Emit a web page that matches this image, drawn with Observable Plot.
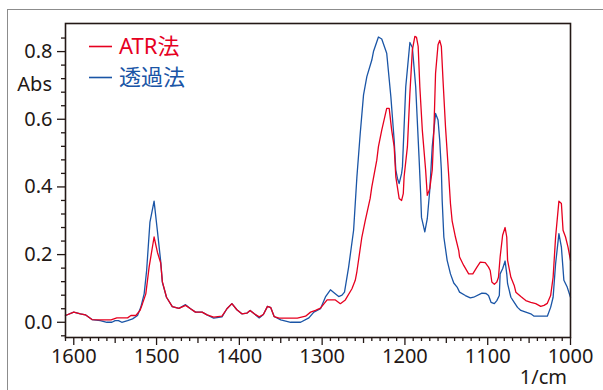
<!DOCTYPE html>
<html><head><meta charset="utf-8">
<script src="https://cdn.jsdelivr.net/npm/d3@7"></script>
<script src="https://cdn.jsdelivr.net/npm/@observablehq/plot@0.6"></script>
<style>
body{margin:0;background:#fff;}
#wrap{position:relative;width:603px;height:390px;overflow:hidden;font-family:"Noto Sans","Noto Sans CJK JP",sans-serif;}
#outer{position:absolute;left:7px;top:9px;width:700px;height:500px;border-left:1.5px solid #8c8c8c;border-top:1.5px solid #8c8c8c;}
#chart{position:absolute;left:0;top:0;}
#overlay{position:absolute;left:0;top:0;pointer-events:none;}
</style></head>
<body>
<div id="wrap"><div id="outer"></div><div id="chart"></div><svg id="overlay" width="603" height="390"></svg></div>
<script>
// Series: ATR法 (red)
const atrWn = [1610,1600,1592,1586,1578,1568,1555,1548,1535,1531,1525,1520,1517,1513,1509,1503,1499,1495,1493,1488,1481,1473,1465,1459,1453,1445,1439,1431,1421,1415,1409,1403,1397,1391,1387,1382,1376,1371,1366,1362,1358,1352,1330,1320,1314,1308,1302,1294,1284,1278,1272,1264,1260,1258,1252,1248,1242,1240,1234,1232,1228,1222,1219,1216,1213,1211,1207,1204,1202,1201,1197,1194,1191,1188,1186,1184,1182,1179,1175,1173,1170,1167,1165,1163,1160,1158,1156,1154,1151,1147,1145,1143,1139,1135,1134,1129,1123,1118,1113,1109,1103,1099,1097,1095,1092,1089,1087,1085,1082,1079,1077,1076,1072,1068,1066,1060,1054,1048,1042,1036,1032,1028,1024,1021,1018,1014,1011,1009,1006,1003,1000];
const atrAbs = [0.02,0.03,0.025,0.022,0.008,0.007,0.007,0.013,0.013,0.02,0.02,0.035,0.055,0.084,0.163,0.252,0.207,0.175,0.12,0.074,0.046,0.041,0.05,0.04,0.03,0.03,0.022,0.015,0.018,0.04,0.055,0.037,0.025,0.027,0.035,0.025,0.016,0.023,0.047,0.043,0.017,0.012,0.012,0.018,0.03,0.035,0.042,0.066,0.066,0.055,0.066,0.099,0.124,0.15,0.252,0.30,0.366,0.40,0.479,0.519,0.568,0.632,0.632,0.568,0.519,0.43,0.366,0.36,0.38,0.43,0.519,0.677,0.805,0.845,0.842,0.815,0.696,0.568,0.45,0.375,0.395,0.45,0.568,0.736,0.82,0.833,0.815,0.716,0.578,0.43,0.351,0.30,0.252,0.212,0.193,0.168,0.143,0.143,0.163,0.178,0.176,0.163,0.153,0.119,0.112,0.119,0.133,0.193,0.257,0.28,0.252,0.183,0.133,0.109,0.089,0.076,0.064,0.059,0.055,0.047,0.05,0.056,0.079,0.133,0.252,0.358,0.351,0.272,0.252,0.222,0.183];
// Series: 透過法 (blue)
const transWn = [1610,1600,1592,1586,1578,1568,1560,1554,1550,1546,1542,1535,1529,1523,1519,1515,1512,1508,1503,1499,1495,1493,1488,1481,1473,1465,1459,1453,1445,1439,1431,1421,1415,1409,1403,1397,1391,1387,1382,1376,1371,1366,1362,1358,1350,1338,1326,1316,1310,1302,1296,1290,1286,1280,1276,1273,1268,1262,1258,1254,1250,1246,1240,1238,1232,1228,1222,1217,1213,1211,1209,1207,1204,1203,1199,1194,1191,1187,1183,1181,1180,1176,1173,1170,1167,1163,1160,1158,1156,1155,1153,1149,1145,1141,1137,1134,1127,1121,1117,1107,1102,1099,1096,1092,1089,1086,1085,1082,1079,1077,1076,1072,1068,1064,1060,1054,1048,1044,1028,1024,1021,1018,1014,1011,1008,1004,1000];
const transAbs = [0.02,0.03,0.025,0.022,0.008,0.005,0.0,0.0,0.005,0.005,0.0,0.005,0.01,0.02,0.045,0.084,0.153,0.296,0.358,0.27,0.18,0.118,0.074,0.046,0.041,0.052,0.04,0.03,0.03,0.022,0.012,0.016,0.04,0.055,0.037,0.025,0.027,0.035,0.025,0.013,0.023,0.047,0.043,0.017,0.007,0.0,0.0,0.013,0.03,0.04,0.075,0.096,0.088,0.076,0.08,0.089,0.163,0.272,0.43,0.558,0.672,0.726,0.775,0.80,0.843,0.837,0.795,0.667,0.538,0.45,0.425,0.41,0.44,0.46,0.696,0.827,0.812,0.696,0.49,0.38,0.31,0.267,0.306,0.39,0.519,0.617,0.598,0.538,0.45,0.36,0.252,0.183,0.143,0.116,0.104,0.089,0.079,0.072,0.074,0.086,0.085,0.079,0.059,0.055,0.064,0.079,0.143,0.158,0.181,0.143,0.114,0.074,0.059,0.044,0.035,0.03,0.025,0.018,0.018,0.044,0.074,0.173,0.262,0.222,0.124,0.104,0.074];
// Tick values
const yMajor = [0, 0.2, 0.4, 0.6, 0.8];
const yMinor = [-0.04,0.04,0.08,0.12,0.16,0.24,0.28,0.32,0.36,0.44,0.48,0.52,0.56,0.64,0.68,0.72,0.76,0.84];
const xMajor = [1600,1500,1400,1300,1200,1100,1000];
const xMid = [1550,1450,1350,1250,1150,1050];
const xMinor = d3.range(1610, 999, -10).filter(v => v % 50 !== 0);
const seriesNames = ["ATR法", "透過法"];
const red = "#e6001f", blue = "#1a55a6";

const atr = atrWn.map((w,i) => ({wn: w, abs: atrAbs[i]}));
const trans = transWn.map((w,i) => ({wn: w, abs: transAbs[i]}));
const ink = "#231815";

const chart = Plot.plot({
  width: 603, height: 390,
  marginLeft: 65, marginRight: 33, marginTop: 23, marginBottom: 53,
  style: {fontFamily: '"Noto Sans","Noto Sans CJK JP",sans-serif', fontSize: "20px", color: ink, background: "transparent", overflow: "visible"},
  x: {domain: [1610, 1000]},
  y: {domain: [-0.045, 0.883]},
  marks: [
    Plot.line(trans, {x: "wn", y: "abs", stroke: blue, strokeWidth: 1.3}),
    Plot.line(atr, {x: "wn", y: "abs", stroke: red, strokeWidth: 1.3}),
    Plot.frame({stroke: ink, strokeWidth: 1.6}),
    Plot.axisY(yMajor, {tickSize: 8, tickPadding: 5, tickFormat: d3.format(".1f"), label: null, strokeWidth: 1.3}),
    Plot.axisY(yMinor, {tickSize: 4, tickFormat: () => "", label: null, strokeWidth: 1.3}),
    Plot.axisX(xMajor, {tickSize: 8, tickPadding: 3, tickFormat: d => String(d), label: null, strokeWidth: 1.3}),
    Plot.axisX(xMid, {tickSize: 6, tickFormat: () => "", label: null, strokeWidth: 1.3}),
    Plot.axisX(xMinor, {tickSize: 4, tickFormat: () => "", label: null, strokeWidth: 1.3})
  ]
});
document.getElementById("chart").appendChild(chart);

const ov = d3.select("#overlay").style("font-family", '"Noto Sans","Noto Sans CJK JP",sans-serif');
const legend = [{name: seriesNames[0], color: red}, {name: seriesNames[1], color: blue}];
legend.forEach((d, i) => {
  const yl = 46.5 + i * 31;
  ov.append("line").attr("x1", 89).attr("x2", 112).attr("y1", yl).attr("y2", yl).attr("stroke", d.color).attr("stroke-width", 1.6);
  ov.append("text").attr("x", 119).attr("y", yl + 7).attr("fill", d.color).attr("font-size", 22).text(d.name);
});
ov.append("text").attr("x", 52).attr("y", 90.5).attr("text-anchor", "end").attr("fill", ink).attr("font-size", 20).text("Abs");
ov.append("text").attr("x", 567).attr("y", 384).attr("text-anchor", "end").attr("fill", ink).attr("font-size", 20).text("1/cm");
</script>
</body></html>
